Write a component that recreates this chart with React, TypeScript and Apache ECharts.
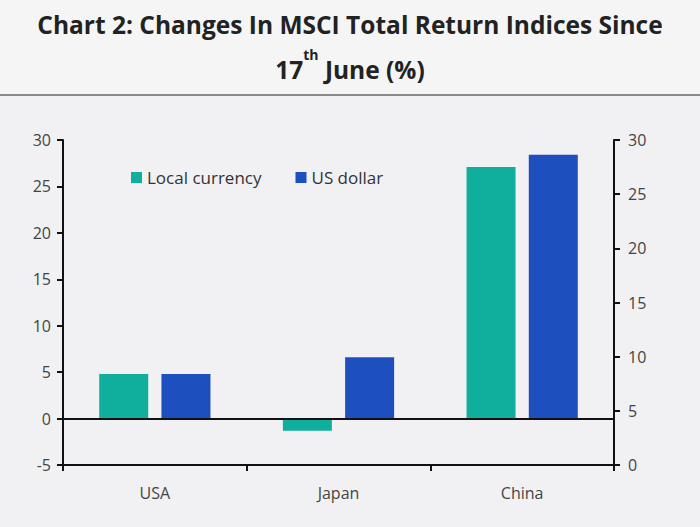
import React, { useEffect, useRef } from "react";
import * as echarts from "echarts";

const categories = ["USA", "Japan", "China"];
const localCurrency = [4.8, -1.3, 27.1];
const usDollar = [4.8, 6.6, 28.4];
const leftTicks = { min: -5, max: 30, interval: 5 };
const rightTicks = { min: 0, max: 30, interval: 5 };

const FONT = "'Open Sans', 'Noto Sans', sans-serif";

export default function App() {
  const ref = useRef<HTMLDivElement>(null);
  useEffect(() => {
    if (!ref.current) return;
    const chart = echarts.init(ref.current, undefined, { renderer: "svg" });
    chart.setOption({
      animation: false,
      backgroundColor: "#F1F1F3",
      title: {
        left: "center",
        top: -3,
        text: "Chart 2: Changes In MSCI Total Return Indices Since\n17{sup|th} June (%)",
        textStyle: {
          fontFamily: FONT,
          fontWeight: "bold",
          fontSize: 24.5,
          color: "#222",
          lineHeight: 45,
          rich: {
            sup: {
              fontFamily: FONT,
              fontWeight: "bold",
              fontSize: 14,
              color: "#222",
              verticalAlign: "top",
              lineHeight: 30,
            },
          },
        },
      },
      graphic: [
        {
          type: "rect",
          z: -1,
          shape: { x: 0, y: 0, width: 700, height: 94 },
          style: { fill: "#F5F5F5" },
        },
        {
          type: "line",
          shape: { x1: 0, y1: 95, x2: 700, y2: 95 },
          style: { stroke: "#8A8A8A", lineWidth: 2 },
        },
      ],
      legend: {
        left: 126,
        top: 164,
        itemWidth: 11,
        itemHeight: 11,
        itemGap: 34,
        icon: "rect",
        textStyle: { fontFamily: FONT, fontSize: 17, color: "#333", padding: [0, 0, 0, 0] },
        data: ["Local currency", "US dollar"],
      },
      grid: { left: 63, right: 86, top: 140, bottom: 62, containLabel: false },
      xAxis: {
        type: "category",
        data: categories,
        axisLine: { onZero: false, lineStyle: { color: "#111", width: 2 } },
        axisTick: { show: true, length: 6, lineStyle: { color: "#111", width: 2 } },
        axisLabel: { fontFamily: FONT, fontSize: 16, color: "#444", margin: 20 },
      },
      yAxis: [
        {
          type: "value",
          position: "left",
          min: leftTicks.min,
          max: leftTicks.max,
          interval: leftTicks.interval,
          splitLine: { show: false },
          axisLine: { show: true, lineStyle: { color: "#111", width: 2 } },
          axisTick: { show: true, length: 6, lineStyle: { color: "#111", width: 2 } },
          axisLabel: { fontFamily: FONT, fontSize: 16, color: "#444", margin: 12 },
        },
        {
          type: "value",
          position: "right",
          min: rightTicks.min,
          max: rightTicks.max,
          interval: rightTicks.interval,
          splitLine: { show: false },
          axisLine: { show: true, lineStyle: { color: "#111", width: 2 } },
          axisTick: { show: true, length: 6, lineStyle: { color: "#111", width: 2 } },
          axisLabel: { fontFamily: FONT, fontSize: 16, color: "#444", margin: 14 },
        },
      ],
      series: [
        {
          name: "Local currency",
          type: "bar",
          yAxisIndex: 0,
          data: localCurrency,
          barWidth: 49,
          barGap: "27%",
          itemStyle: { color: "#10AE9C" },
          markLine: {
            silent: true,
            symbol: "none",
            label: { show: false },
            lineStyle: { color: "#111", width: 2, type: "solid" },
            data: [{ yAxis: 0 }],
          },
        },
        {
          name: "US dollar",
          type: "bar",
          yAxisIndex: 0,
          data: usDollar,
          barWidth: 49,
          barGap: "27%",
          itemStyle: { color: "#1D50BE" },
        },
      ],
    });
    return () => chart.dispose();
  }, []);
  return <div ref={ref} style={{ width: 700, height: 527, position: "absolute", left: 0, top: 0 }} />;
}
